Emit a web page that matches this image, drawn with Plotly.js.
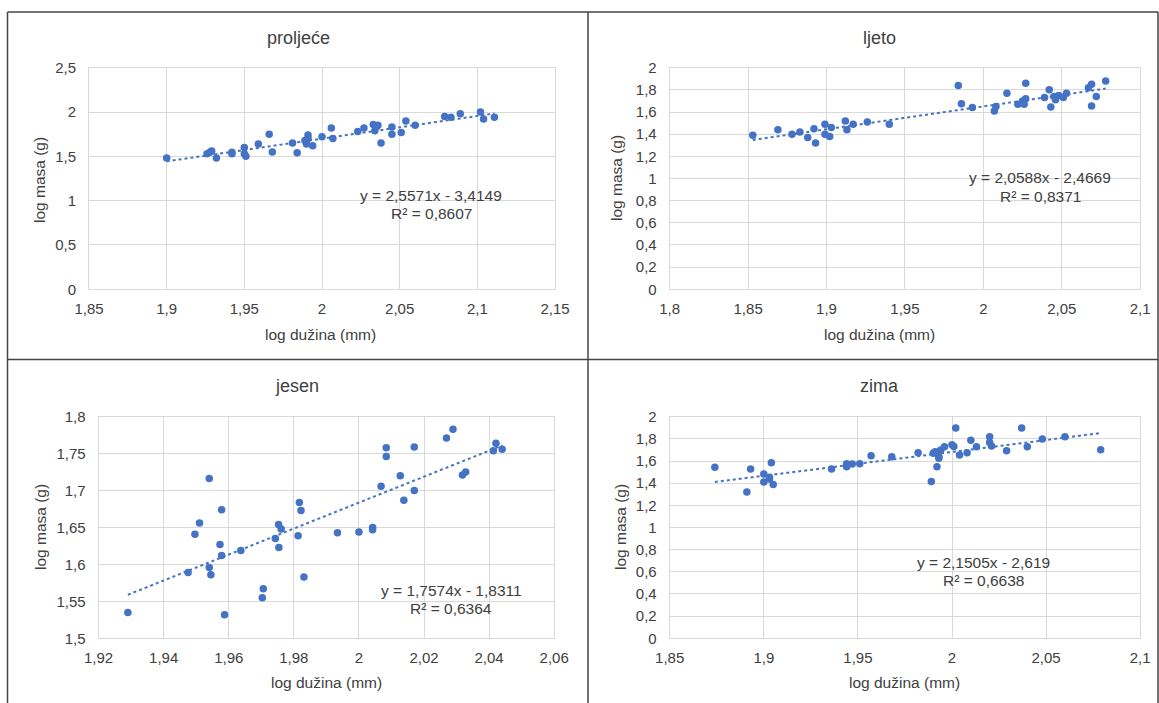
<!DOCTYPE html>
<html><head><meta charset="utf-8">
<script src="https://cdn.plot.ly/plotly-3.0.1.min.js"></script>
<style>html,body{margin:0;padding:0;background:#fff}#chart{width:1159px;height:703px}</style>
</head><body><div id="chart"></div>
<script>
// ---- data ----
const panelTitles = ["proljeće", "ljeto", "jesen", "zima"];
const xAxisTitle = "log dužina (mm)";
const yAxisTitle = "log masa (g)";

const prolX = [1.900,1.926,1.928,1.929,1.932,1.942,1.942,1.950,1.950,1.951,1.959,1.966,1.968,1.981,1.984,1.989,1.991,1.991,1.990,1.994,2.000,2.006,2.007,2.023,2.027,2.033,2.034,2.035,2.036,2.038,2.045,2.045,2.051,2.054,2.060,2.079,2.083,2.089,2.102,2.104,2.111];
const prolY = [1.48,1.53,1.55,1.56,1.48,1.545,1.53,1.60,1.53,1.50,1.64,1.75,1.55,1.65,1.54,1.68,1.74,1.70,1.64,1.62,1.72,1.82,1.70,1.78,1.82,1.86,1.79,1.83,1.85,1.65,1.83,1.75,1.77,1.90,1.85,1.95,1.94,1.98,2.00,1.92,1.94];

const ljetoX = [1.853,1.869,1.878,1.883,1.888,1.892,1.893,1.899,1.899,1.902,1.903,1.912,1.913,1.917,1.926,1.940,1.984,1.986,1.993,2.007,2.008,2.015,2.022,2.025,2.027,2.026,2.027,2.039,2.042,2.043,2.045,2.046,2.048,2.051,2.053,2.067,2.069,2.069,2.072,2.078];
const ljetoY = [1.39,1.44,1.40,1.42,1.37,1.45,1.32,1.49,1.40,1.38,1.46,1.52,1.44,1.49,1.51,1.49,1.84,1.675,1.64,1.61,1.65,1.77,1.67,1.70,1.86,1.67,1.72,1.73,1.80,1.645,1.74,1.71,1.75,1.73,1.77,1.82,1.85,1.655,1.74,1.88];

const jesenX = [1.929,1.9475,1.9496,1.951,1.954,1.954,1.9545,1.9573,1.9578,1.9578,1.9587,1.9637,1.9703,1.9706,1.9743,1.9753,1.9754,1.9761,1.9813,1.9817,1.9822,1.9831,1.9934,2.000,2.0042,2.0042,2.0068,2.0084,2.0084,2.0127,2.0138,2.017,2.017,2.0269,2.0289,2.0318,2.0328,2.0413,2.0421,2.044];
const jesenY = [1.535,1.589,1.641,1.656,1.7165,1.596,1.586,1.627,1.674,1.612,1.532,1.619,1.555,1.567,1.635,1.654,1.623,1.648,1.639,1.684,1.673,1.583,1.643,1.644,1.650,1.647,1.706,1.758,1.746,1.720,1.687,1.700,1.759,1.771,1.783,1.721,1.725,1.754,1.764,1.756];

const zimaX = [1.874,1.891,1.893,1.900,1.900,1.903,1.903,1.904,1.905,1.936,1.944,1.944,1.947,1.951,1.957,1.968,1.982,1.989,1.990,1.991,1.992,1.993,1.993,1.994,1.996,2.000,2.001,2.002,2.004,2.008,2.010,2.013,2.020,2.020,2.021,2.029,2.037,2.040,2.048,2.060,2.079];
const zimaY = [1.543,1.320,1.528,1.410,1.483,1.438,1.453,1.585,1.389,1.528,1.576,1.549,1.573,1.576,1.648,1.639,1.675,1.416,1.669,1.684,1.549,1.639,1.624,1.699,1.729,1.747,1.732,1.898,1.654,1.675,1.787,1.729,1.820,1.768,1.735,1.693,1.898,1.729,1.798,1.820,1.702];

// trendline coefficients (as printed on the chart)
const slopes = [2.5571, 2.0588, 1.7574, 2.1505];
const intercepts = [-3.4149, -2.4669, -1.8311, -2.619];
const eqTexts = ["y = 2,5571x - 3,4149", "y = 2,0588x - 2,4669", "y = 1,7574x - 1,8311", "y = 2,1505x - 2,619"];
const r2Texts = ["R² = 0,8607", "R² = 0,8371", "R² = 0,6364", "R² = 0,6638"];

// axis ticks
const xTicks1 = [1.85,1.9,1.95,2,2.05,2.1,2.15];
const xTickText1 = ["1,85","1,9","1,95","2","2,05","2,1","2,15"];
const yTicks1 = [0,0.5,1,1.5,2,2.5];
const yTickText1 = ["0","0,5","1","1,5","2","2,5"];
const xTicks2 = [1.8,1.85,1.9,1.95,2,2.05,2.1];
const xTickText2 = ["1,8","1,85","1,9","1,95","2","2,05","2,1"];
const yTicks24 = [0,0.2,0.4,0.6,0.8,1,1.2,1.4,1.6,1.8,2];
const yTickText24 = ["0","0,2","0,4","0,6","0,8","1","1,2","1,4","1,6","1,8","2"];
const xTicks3 = [1.92,1.94,1.96,1.98,2,2.02,2.04,2.06];
const xTickText3 = ["1,92","1,94","1,96","1,98","2","2,02","2,04","2,06"];
const yTicks3 = [1.5,1.55,1.6,1.65,1.7,1.75,1.8];
const yTickText3 = ["1,5","1,55","1,6","1,65","1,7","1,75","1,8"];
const xTicks4 = [1.85,1.9,1.95,2,2.05,2.1];
const xTickText4 = ["1,85","1,9","1,95","2","2,05","2,1"];

// ---- layout helpers ----
const W = 1159, H = 703;
const fx = v => v / W;
const fy = v => 1 - v / H;
const BLUE = "#4472C4";
const FONT = "Liberation Sans, Arial, sans-serif";
const TXT = "#404040";

const series = [[prolX, prolY], [ljetoX, ljetoY], [jesenX, jesenY], [zimaX, zimaY]];
const axisSets = [
  {xt: xTicks1, xl: xTickText1, yt: yTicks1, yl: yTickText1},
  {xt: xTicks2, xl: xTickText2, yt: yTicks24, yl: yTickText24},
  {xt: xTicks3, xl: xTickText3, yt: yTicks3, yl: yTickText3},
  {xt: xTicks4, xl: xTickText4, yt: yTicks24, yl: yTickText24}
];
// plot areas in pixels [left, right, top, bottom]
const boxes = [
  [89, 555, 67.7, 289.3],
  [669.7, 1140.2, 67.7, 289.3],
  [98.6, 554.2, 416.7, 638.3],
  [669.7, 1140.2, 416.7, 638.3]
];
const titlePos = [[298, 38], [879, 38], [297, 386], [879, 386]];
const xTitlePos = [[320, 334], [879, 334], [326, 682], [904, 682]];
const yTitlePos = [[40, 180], [616, 178], [40, 527], [620, 527]];
const eqPos = [[431, 195], [1040, 177], [451, 590], [984, 562]];
const r2Pos = [[431, 213], [1040, 196], [451, 608], [984, 580]];

const traces = [];
const layout = {
  width: W, height: H,
  margin: {l: 0, r: 0, t: 0, b: 0},
  paper_bgcolor: "#fff", plot_bgcolor: "#fff",
  showlegend: false,
  font: {family: FONT, size: 15, color: TXT},
  annotations: [], shapes: []
};

series.forEach((s, i) => {
  const n = i === 0 ? "" : String(i + 1);
  const xa = "x" + n, ya = "y" + n;
  traces.push({
    type: "scatter", mode: "markers", x: s[0], y: s[1], xaxis: xa, yaxis: ya,
    marker: {color: BLUE, size: 7.5}, hoverinfo: "x+y"
  });
  const x0 = Math.min(...s[0]), x1 = Math.max(...s[0]);
  traces.push({
    type: "scatter", mode: "lines", x: [x0, x1],
    y: [slopes[i] * x0 + intercepts[i], slopes[i] * x1 + intercepts[i]],
    xaxis: xa, yaxis: ya, line: {color: BLUE, width: 2, dash: "dot"}, hoverinfo: "skip"
  });
  const b = boxes[i], a = axisSets[i];
  layout["xaxis" + n] = {
    domain: [fx(b[0]), fx(b[1])], anchor: ya,
    range: [a.xt[0], a.xt[a.xt.length - 1]],
    tickmode: "array", tickvals: a.xt, ticktext: a.xl,
    showgrid: true, gridcolor: "#d9d9d9", gridwidth: 1, zeroline: false,
    showline: true, mirror: true, linecolor: "#d9d9d9", linewidth: 1,
    ticks: "outside", ticklen: 6, tickcolor: "rgba(0,0,0,0)",
    tickfont: {family: FONT, size: 15, color: TXT}, fixedrange: true
  };
  layout["yaxis" + n] = {
    domain: [fy(b[3]), fy(b[2])], anchor: xa,
    range: [a.yt[0], a.yt[a.yt.length - 1]],
    tickmode: "array", tickvals: a.yt, ticktext: a.yl,
    showgrid: true, gridcolor: "#d9d9d9", gridwidth: 1, zeroline: false,
    showline: true, mirror: true, linecolor: "#d9d9d9", linewidth: 1,
    ticks: "outside", ticklen: 9, tickcolor: "rgba(0,0,0,0)",
    tickfont: {family: FONT, size: 15, color: TXT}, fixedrange: true
  };
  const ann = (text, pos, size, color, extra) => Object.assign({
    text, xref: "paper", yref: "paper", x: fx(pos[0]), y: fy(pos[1]),
    xanchor: "center", yanchor: "middle", showarrow: false,
    font: {family: FONT, size, color}
  }, extra || {});
  layout.annotations.push(ann(panelTitles[i], titlePos[i], 18, TXT));
  layout.annotations.push(ann(xAxisTitle, xTitlePos[i], 15.5, TXT));
  layout.annotations.push(ann(yAxisTitle, yTitlePos[i], 15.5, TXT, {textangle: -90}));
  layout.annotations.push(ann(eqTexts[i], eqPos[i], 15.5, TXT));
  layout.annotations.push(ann(r2Texts[i], r2Pos[i], 15.5, TXT));
});

// panel borders
const LC = "#444";
const line = (x0, y0, x1, y1) => ({type: "line", xref: "paper", yref: "paper",
  x0: fx(x0), y0: fy(y0), x1: fx(x1), y1: fy(y1), line: {color: LC, width: 1.5}});
layout.shapes.push(line(7.5, 12, 1158, 12));
layout.shapes.push(line(7.5, 12, 7.5, 703));
layout.shapes.push(line(588, 12, 588, 703));
layout.shapes.push(line(1158, 12, 1158, 703));
layout.shapes.push(line(7.5, 359.5, 1158, 359.5));

Plotly.newPlot("chart", traces, layout, {displayModeBar: false, staticPlot: true});
</script>
</body></html>
